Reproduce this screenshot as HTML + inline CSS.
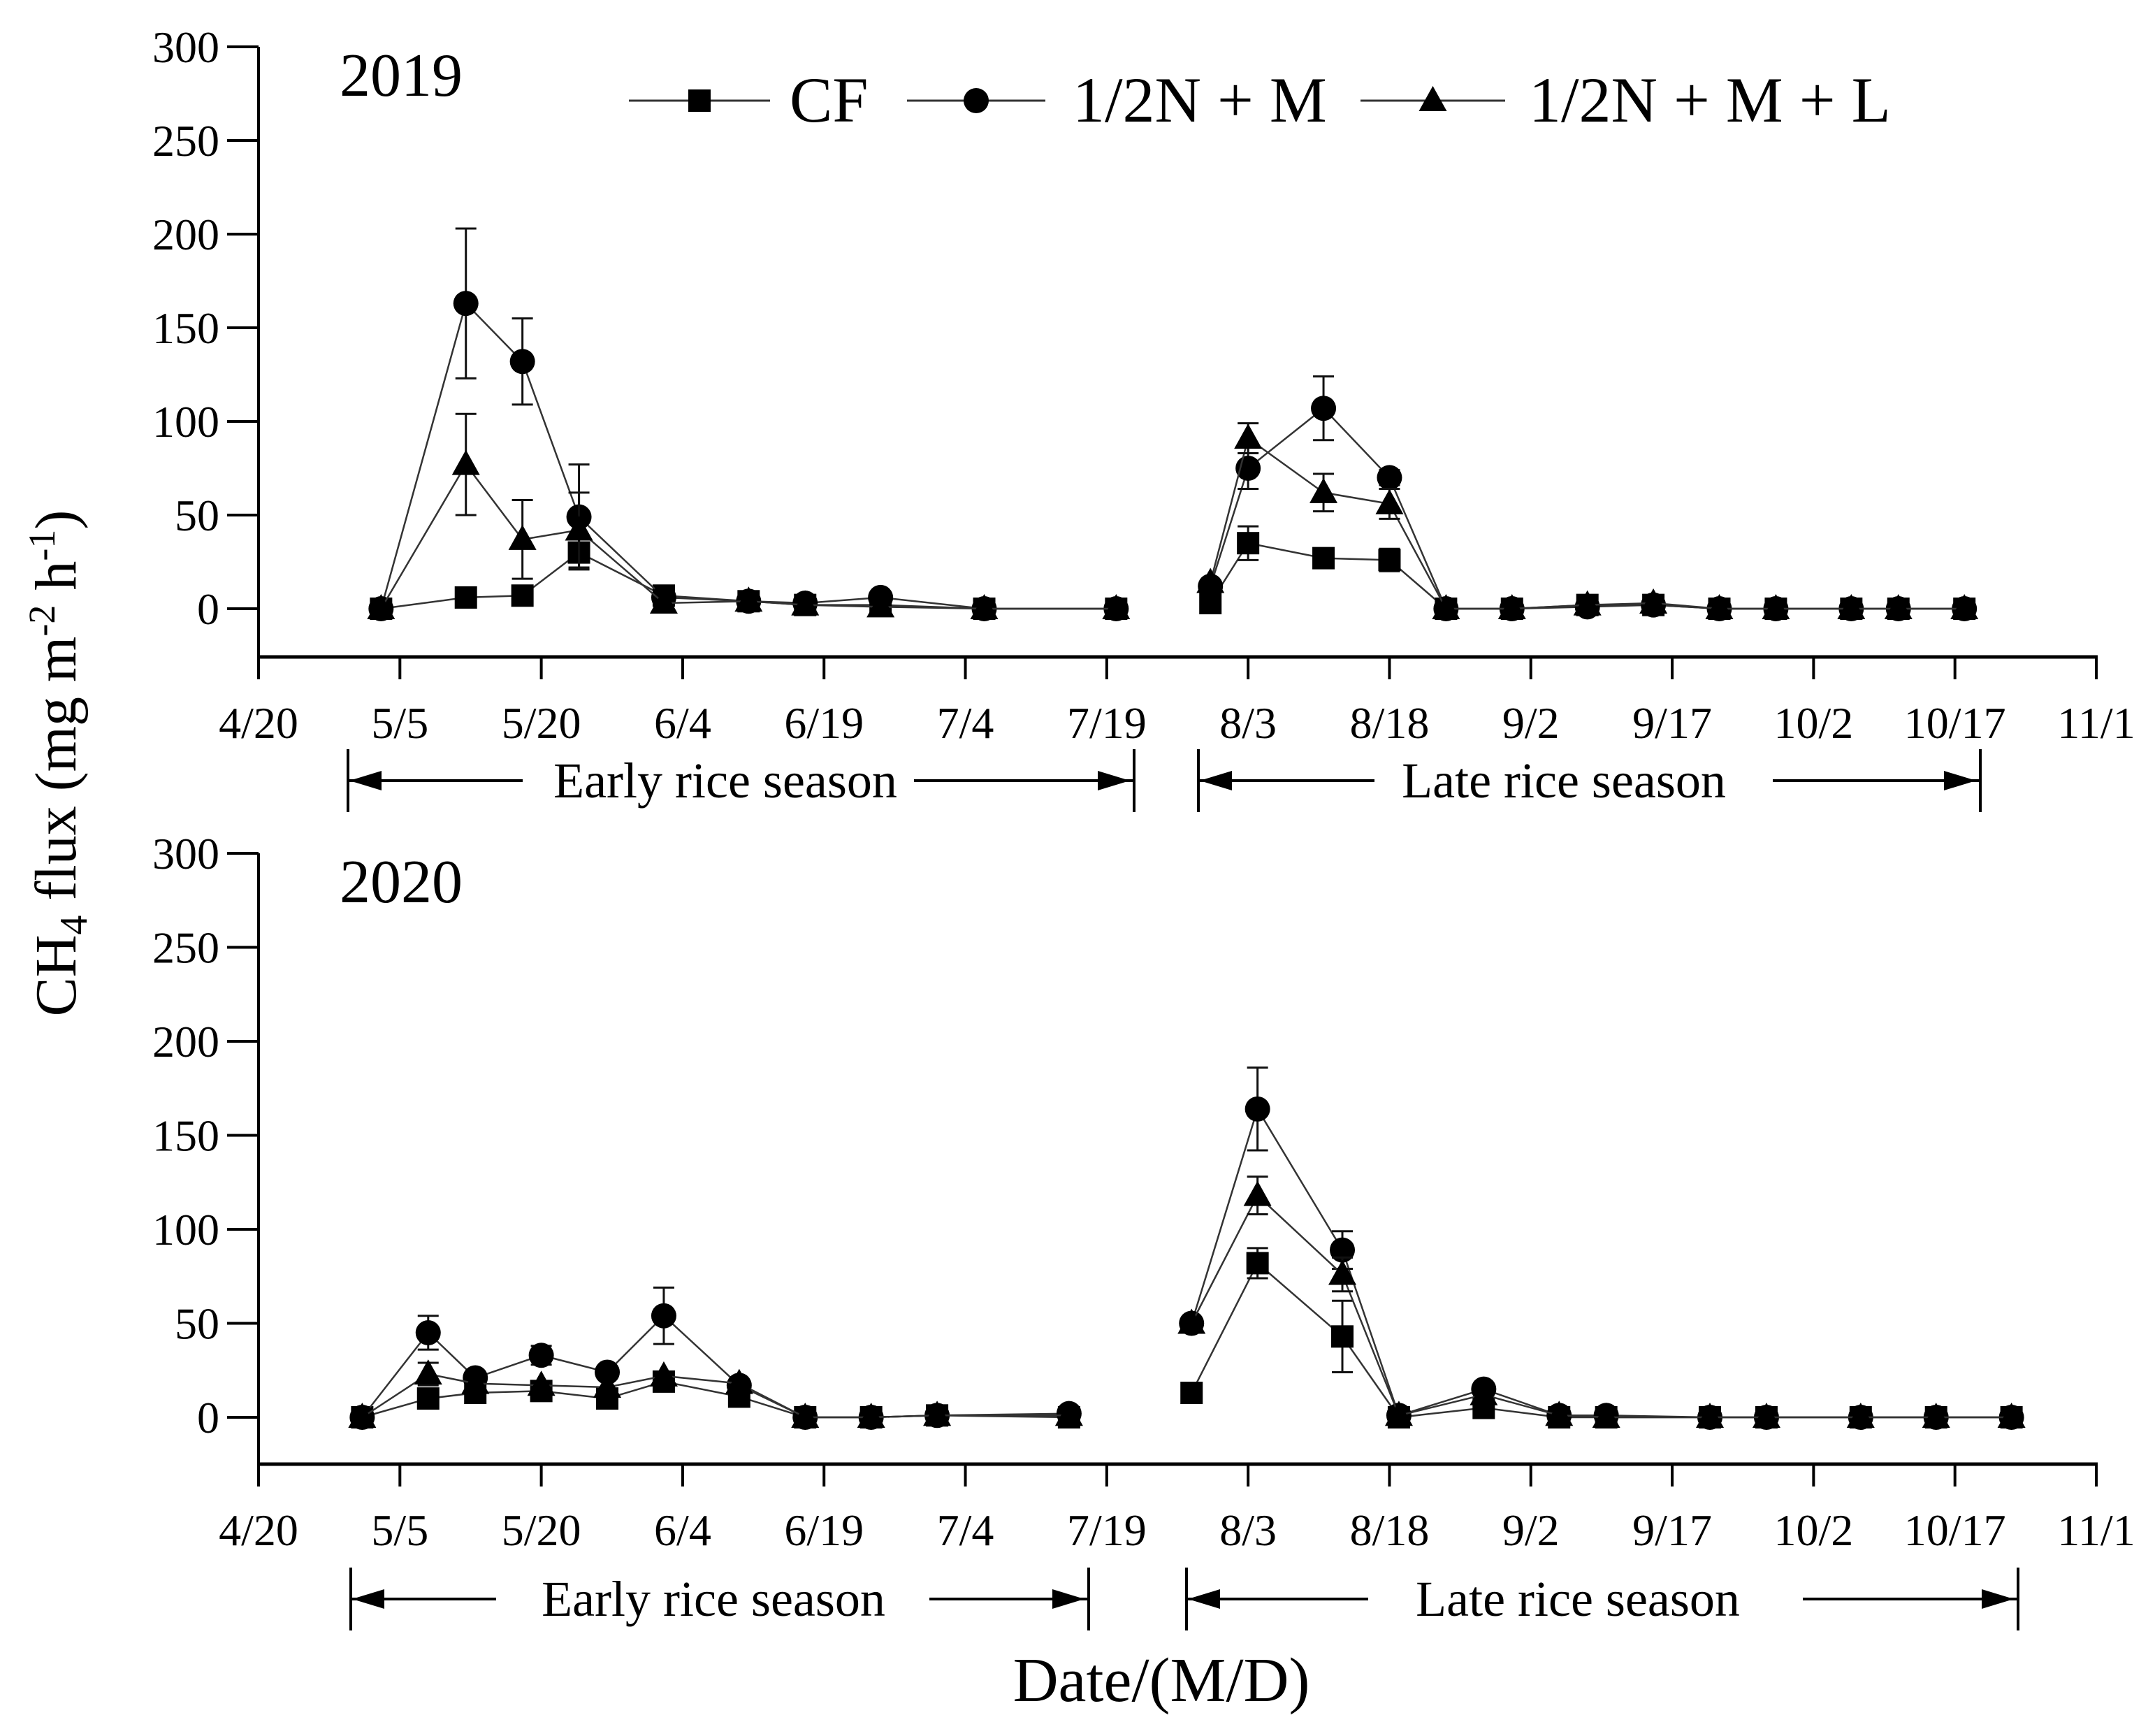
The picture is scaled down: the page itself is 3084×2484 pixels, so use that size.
<!DOCTYPE html>
<html><head><meta charset="utf-8">
<style>
html,body{margin:0;padding:0;background:#fff;}
svg{display:block;}
text{font-family:"Liberation Serif",serif;fill:#000;}
</style></head>
<body>
<svg id="chart" width="3084" height="2484" viewBox="0 0 3084 2484" xmlns="http://www.w3.org/2000/svg">
<g id="static">
<text transform="translate(108,1092) rotate(-90)" text-anchor="middle" style="font-size:84px;">CH<tspan font-size="56" dy="16">4</tspan><tspan dy="-16">  flux (mg m</tspan><tspan font-size="54" dy="-30">-2</tspan><tspan dy="30"> h</tspan><tspan font-size="54" dy="-30">-1</tspan><tspan dy="30">)</tspan></text>
<text x="1662" y="2434" text-anchor="middle" font-size="90">Date/(M/D)</text>
</g>
</svg>
<script>
// ---- data (days since 4/20) ----
const xTickLabels = ["4/20","5/5","5/20","6/4","6/19","7/4","7/19","8/3","8/18","9/2","9/17","10/2","10/17","11/1"];
const yTickLabels = [0,50,100,150,200,250,300];
const seriesNames = ["CF","1/2N + M","1/2N + M + L"];

const days2019 = [13,22,28,34,43,52,58,66,77,91, 101,105,113,120,126,133,141,148,155,161,169,174,181];
const cf2019 = [0,6,7,30,7,4,2,2,0,0, 3,35,27,26,0,0,2,2,0,0,0,0,0];
const m2019  = [0,163,132,49,6,4,3,6,0,0, 12,75,107,70,0,0,1,2,0,0,0,0,0];
const l2019  = [0,77,37,42,3,4,2,1,0,0, 14,91,62,56,0,0,2,3,0,0,0,0,0];
const cfErr2019 = [0,0,0,9,0,0,0,0,0,0, 0,9,0,6,0,0,0,0,0,0,0,0,0];
const mErr2019  = [0,40,23,28,0,0,0,0,0,0, 0,11,17,4,0,0,0,0,0,0,0,0,0];
const lErr2019  = [0,27,21,20,0,0,0,0,0,0, 0,8,10,8,0,0,0,0,0,0,0,0,0];
const split2019 = 10;

const days2020 = [11,18,23,30,37,43,51,58,65,72,86, 99,106,115,121,130,138,143,154,160,170,178,186];
const cf2020 = [0,10,13,14,10,19,11,0,0,1,0, 13,82,43,0,5,0,0,0,0,0,0,0];
const m2020  = [0,45,21,33,24,54,17,0,0,1,2, 50,164,89,1,15,1,1,0,0,0,0,0];
const l2020  = [0,23,18,17,16,22,18,0,0,1,1, 50,118,76,1,12,1,0,0,0,0,0,0];
const cfErr2020 = [0,0,0,0,0,0,0,0,0,0,0, 0,8,19,0,0,0,0,0,0,0,0,0];
const mErr2020  = [0,9,0,5,0,15,0,0,0,0,0, 0,22,10,0,0,0,0,0,0,0,0,0];
const lErr2020  = [0,6,0,0,0,0,0,0,0,0,0, 0,10,9,0,0,0,0,0,0,0,0,0];
const split2020 = 11;

const NS="http://www.w3.org/2000/svg";
const svg=document.getElementById('chart');
function el(tag,attrs,parent){const e=document.createElementNS(NS,tag);for(const k in attrs)e.setAttribute(k,attrs[k]);(parent||svg).appendChild(e);return e;}

const X0=370, X1=3000, DAYS=195;
function xs(d){return X0+(X1-X0)*d/DAYS;}

function panel(cfg){
  const g=el('g',{});
  
  
  const ys=v=>cfg.y0+(cfg.y300-cfg.y0)*v/300;
  const ya=el('line',{x1:X0,y1:cfg.y300,x2:X0,y2:cfg.axisY,stroke:'#000','stroke-width':4},g);
   
  const xa=el('line',{x1:X0-2,y1:cfg.axisY,x2:X1+2,y2:cfg.axisY,stroke:'#000','stroke-width':5},g);
   
  yTickLabels.forEach(v=>{
    el('line',{x1:X0-45,y1:ys(v),x2:X0,y2:ys(v),stroke:'#000','stroke-width':4},g);
    const t=el('text',{x:X0-56,y:ys(v)+22,'text-anchor':'end','font-size':64},g);
    t.textContent=v;
     
  });
  xTickLabels.forEach((lab,i)=>{
    const x=xs(i*15);
    el('line',{x1:x,y1:cfg.axisY,x2:x,y2:cfg.axisY+32,stroke:'#000','stroke-width':4},g);
    const t=el('text',{x:x,y:cfg.axisY+116,'text-anchor':'middle','font-size':64},g);
    t.textContent=lab;
     
  });
  const yr=el('text',{x:486,y:cfg.y300+70,'font-size':88},g);
  yr.textContent=cfg.year;
   
  cfg.seasons.forEach(s=>{
    const sg=el('g',{},g);
     
    const by=cfg.bracketY;
    el('line',{x1:s.a,y1:by-45,x2:s.a,y2:by+45,stroke:'#000','stroke-width':4},sg);
    el('line',{x1:s.b,y1:by-45,x2:s.b,y2:by+45,stroke:'#000','stroke-width':4},sg);
    el('line',{x1:s.a,y1:by,x2:s.l,y2:by,stroke:'#000','stroke-width':4},sg);
    el('line',{x1:s.r,y1:by,x2:s.b,y2:by,stroke:'#000','stroke-width':4},sg);
    el('polygon',{points:`${s.a+2},${by} ${s.a+48},${by-14} ${s.a+48},${by+14}`,fill:'#000'},sg);
    el('polygon',{points:`${s.b-6},${by} ${s.b-52},${by-14} ${s.b-52},${by+14}`,fill:'#000'},sg);
    const t=el('text',{x:s.c,y:by+24,'text-anchor':'middle','font-size':72},sg);
    t.textContent=s.text;
  });
  const series=[[cfg.cf,cfg.cfErr,'square'],[cfg.m,cfg.mErr,'circle'],[cfg.l,cfg.lErr,'triangle']];
  series.forEach(([vals,errs,shape],si)=>{
    const sg=el('g',{},g);
    
    
    [[0,cfg.split],[cfg.split,vals.length]].forEach(([a,b])=>{
      let p='';
      for(let i=a;i<b;i++)p+=(i===a?'M':'L')+xs(cfg.days[i])+','+ys(vals[i]);
      el('path',{d:p,fill:'none',stroke:'#333','stroke-width':2.5},sg);
    });
    vals.forEach((v,i)=>{
      const x=xs(cfg.days[i]),y=ys(v),e=errs[i];
      if(e>0){
        el('line',{x1:x,y1:ys(v+e),x2:x,y2:ys(v-e),stroke:'#111','stroke-width':3},sg);
        el('line',{x1:x-15,y1:ys(v+e),x2:x+15,y2:ys(v+e),stroke:'#111','stroke-width':3},sg);
        el('line',{x1:x-15,y1:ys(v-e),x2:x+15,y2:ys(v-e),stroke:'#111','stroke-width':3},sg);
      }
      drawMarker(shape,x,y,sg);
    });
  });
}
function drawMarker(shape,x,y,p){
  let m;
  if(shape==='square')m=el('rect',{x:x-16,y:y-16,width:32,height:32,fill:'#000'},p);
  else if(shape==='circle')m=el('circle',{cx:x,cy:y,r:18,fill:'#000'},p);
  else m=el('polygon',{points:`${x},${y-21} ${x+20},${y+15} ${x-20},${y+15}`,fill:'#000'},p);
  
  
}

panel({year:'2019',y300:67,y0:871,axisY:940,bracketY:1117,days:days2019,split:split2019,
  cf:cf2019,m:m2019,l:l2019,cfErr:cfErr2019,mErr:mErr2019,lErr:lErr2019,
  seasons:[{a:498,b:1623,l:748,r:1308,c:1038,text:'Early rice season'},
           {a:1715,b:2834,l:1967,r:2537,c:2238,text:'Late rice season'}]});
panel({year:'2020',y300:1221,y0:2028,axisY:2095,bracketY:2288,days:days2020,split:split2020,
  cf:cf2020,m:m2020,l:l2020,cfErr:cfErr2020,mErr:mErr2020,lErr:lErr2020,
  seasons:[{a:502,b:1558,l:710,r:1330,c:1021,text:'Early rice season'},
           {a:1698,b:2888,l:1958,r:2580,c:2258,text:'Late rice season'}]});

const leg=el('g',{});


const legPos=[[900,1102,1130],[1298,1496,1535],[1947,2154,2188]];
const shapes=['square','circle','triangle'];
seriesNames.forEach((n,i)=>{
  const eg=el('g',{},leg);
  
  
  const [a,b,tx]=legPos[i];
  el('line',{x1:a,y1:144,x2:b,y2:144,stroke:'#333','stroke-width':3},eg);
  drawMarker(shapes[i],(a+b)/2,144,eg);
  const t=el('text',{x:tx,y:174,'font-size':92},eg);
  t.textContent=n;
});
</script>
</body></html>
